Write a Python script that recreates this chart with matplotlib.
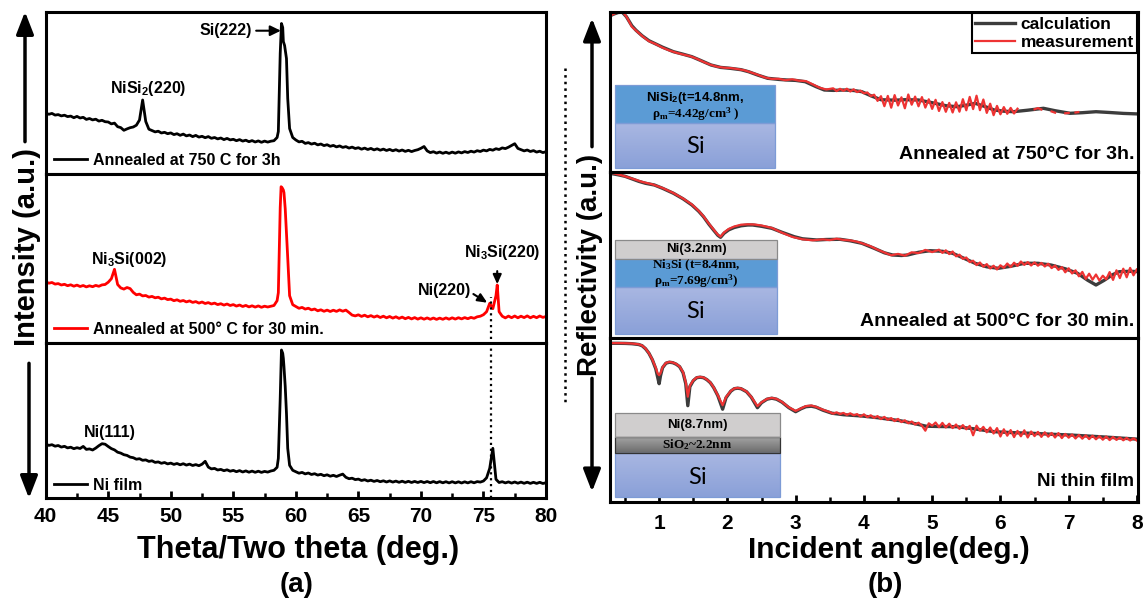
import numpy as np
import matplotlib
matplotlib.use("Agg")
import matplotlib.pyplot as plt
from matplotlib.patches import Rectangle, FancyArrowPatch
from matplotlib.lines import Line2D
from matplotlib.colors import LinearSegmentedColormap
from matplotlib.ticker import MultipleLocator

plt.rcParams["font.family"] = ["Liberation Sans", "DejaVu Sans"]
plt.rcParams["font.weight"] = "bold"
plt.rcParams["mathtext.fontset"] = "custom"
plt.rcParams["mathtext.rm"] = "Liberation Serif:bold"
plt.rcParams["mathtext.it"] = "Liberation Serif:italic:bold"
plt.rcParams["mathtext.bf"] = "Liberation Serif:bold"
plt.rcParams["mathtext.sf"] = "Liberation Sans:bold"

# ---------------- XRD scans, 2theta step 0.25 deg (a.u.) ----------------
two_theta = np.linspace(40, 80, 161)

xrd_750 = [
    60.5, 59.2, 60.1, 58.4, 58.9, 57.6, 58.3, 56.9, 57.4, 55.8, 57.1, 55.5, 56.2, 54.1, 55.0, 53.6, 54.3, 52.4, 53.2, 51.8,
    51.5, 49.6, 50.4, 46.8, 45.9, 43.2, 44.6, 45.8, 46.5, 48.3, 53.5, 73.5, 52.0, 44.3, 42.9, 41.6, 42.3, 40.5, 41.2, 39.8,
    40.6, 38.9, 39.8, 38.2, 39.4, 37.6, 38.5, 36.9, 38.1, 36.4, 37.2, 35.8, 36.9, 35.2, 36.0, 34.6, 35.5, 33.9, 35.1, 33.6,
    34.2, 32.8, 33.9, 32.4, 33.3, 31.8, 32.9, 31.5, 32.6, 31.2, 32.4, 31.4, 32.3, 32.8, 36.0, 120.0, 132.0, 115.0, 45.0, 36.0,
    33.5, 31.6, 32.2, 30.1, 30.9, 29.4, 30.3, 28.6, 29.5, 27.9, 28.8, 27.2, 28.1, 26.6, 27.6, 26.1, 26.9, 25.4, 26.4, 25.0,
    25.8, 24.3, 25.4, 24.0, 25.1, 23.6, 24.7, 23.3, 24.4, 23.0, 24.1, 22.7, 23.8, 22.4, 23.5, 22.1, 23.2, 21.9, 23.0, 23.8,
    25.2, 27.0, 22.6, 20.9, 21.8, 20.4, 21.5, 20.2, 21.3, 20.1, 21.4, 20.3, 21.6, 20.6, 21.9, 21.0, 22.3, 21.4, 22.8, 22.0,
    23.4, 22.6, 24.1, 23.3, 24.8, 24.0, 25.6, 24.9, 26.3, 28.0, 29.8, 25.1, 23.9, 22.6, 23.5, 22.0, 22.9, 21.4, 22.3, 20.9,
    21.8,
]
peak_theta_750 = [58.6, 58.85, 58.95, 59.1, 59.35]
peak_750 = [42.0, 150.0, 146.0, 128.0, 75.0]

xrd_500 = [
    61.0, 59.5, 60.2, 58.6, 59.1, 57.7, 58.4, 57.0, 57.9, 56.5, 57.6, 56.2, 57.2, 55.8, 56.9, 56.0, 57.3, 56.4, 57.8, 58.2,
    60.5, 64.0, 73.4, 58.2, 54.8, 53.6, 55.2, 54.1, 50.3, 47.9, 48.6, 46.8, 47.2, 45.6, 46.3, 44.9, 45.5, 43.8, 44.6, 43.1,
    43.6, 42.0, 42.9, 41.4, 42.2, 40.8, 41.8, 40.3, 41.1, 39.6, 40.7, 39.2, 40.1, 38.7, 39.6, 38.1, 39.0, 37.6, 38.7, 37.2,
    38.1, 36.6, 37.7, 36.2, 37.3, 35.8, 36.9, 35.6, 36.8, 35.4, 36.5, 35.7, 36.4, 37.2, 42.0, 135.0, 152.7, 110.0, 47.0, 38.0,
    36.2, 34.4, 35.3, 33.6, 34.5, 32.8, 33.7, 31.9, 32.9, 31.4, 32.6, 31.2, 32.5, 31.3, 32.8, 31.5, 32.6, 30.2, 27.6, 26.8,
    27.9, 26.3, 27.5, 25.9, 27.1, 25.6, 26.8, 25.2, 26.5, 24.9, 26.2, 24.6, 25.9, 24.3, 25.6, 24.0, 25.3, 23.8, 25.1, 23.6,
    24.9, 23.5, 24.8, 23.4, 24.7, 23.3, 24.6, 23.4, 24.8, 23.5, 24.9, 23.6, 25.0, 23.8, 25.1, 24.0, 25.3, 24.4, 25.9, 26.5,
    28.0, 31.0, 39.4, 34.0, 47.0, 31.0, 26.5, 24.8, 26.6, 25.0, 26.7, 24.9, 26.5, 25.1, 26.8, 24.9, 26.4, 25.0, 26.7, 25.3,
    26.2,
]
peak_theta_500 = [58.6, 58.82, 58.9, 59.05, 59.15, 59.35, 76.1]
peak_500 = [50.0, 156.0, 155.0, 150.0, 134.0, 85.0, 57.7]

xrd_ni = [
    54.3, 52.9, 53.6, 52.1, 52.8, 51.2, 52.0, 50.4, 51.1, 49.6, 50.6, 49.8, 51.9, 48.9, 49.4, 48.3, 50.2, 52.6, 54.6, 54.1,
    51.8, 49.7, 48.4, 46.1, 45.2, 43.6, 42.9, 41.2, 40.6, 39.1, 39.6, 38.0, 38.4, 36.9, 37.5, 35.9, 36.4, 35.0, 35.8, 34.4,
    35.2, 33.9, 34.8, 33.5, 34.6, 33.2, 34.2, 32.8, 33.7, 32.6, 34.1, 37.0, 31.2, 29.4, 29.9, 28.3, 28.9, 27.6, 28.5, 27.1,
    27.9, 26.6, 27.7, 26.3, 27.4, 26.1, 27.2, 26.0, 27.1, 25.9, 26.9, 26.2, 27.3, 28.0, 31.0, 100.0, 140.0, 85.0, 33.0, 28.0,
    26.6, 25.1, 25.9, 24.4, 25.3, 23.8, 24.6, 23.2, 24.0, 22.6, 23.5, 22.1, 23.0, 21.8, 23.1, 24.2, 21.0, 19.6, 20.1, 18.7,
    19.2, 17.8, 18.6, 17.3, 18.1, 16.9, 17.8, 16.6, 17.5, 16.3, 17.4, 16.2, 17.2, 16.0, 17.1, 15.9, 17.0, 15.8, 16.9, 15.8,
    16.9, 15.7, 16.8, 15.6, 16.8, 15.5, 16.7, 15.5, 16.6, 15.4, 16.6, 15.4, 16.5, 15.3, 16.5, 15.4, 16.6, 15.5, 16.7, 16.2,
    17.3, 20.5, 30.0, 50.0, 19.0, 15.8, 16.6, 15.4, 16.4, 15.2, 16.3, 15.1, 16.2, 15.0, 16.1, 14.9, 16.0, 14.9, 16.0, 14.8,
    15.6,
]
peak_theta_ni = [58.6, 58.85, 58.95, 59.05, 59.15, 59.35]
peak_ni = [40.0, 148.3, 145.0, 131.6, 112.0, 50.0]

xrd_labels = ["Annealed at 750 C for 3h", "Annealed at 500\u00b0 C for 30 min.", "Ni film"]

# ---------------- X-ray reflectivity, (angle deg, a.u.) ----------------
calc_750 = [
    (0.28, 156.0), (0.35, 158.0), (0.40, 159.2), (0.46, 159.5), (0.52, 155.0), (0.60, 146.0), (0.66, 141.5),
    (0.75, 136.0), (0.85, 131.0), (0.93, 128.4), (1.05, 124.5), (1.21, 120.0), (1.35, 117.5), (1.48, 115.0),
    (1.60, 111.5), (1.76, 106.7), (1.90, 104.3), (2.04, 103.4), (2.20, 102.0), (2.31, 100.0), (2.45, 96.5),
    (2.59, 93.4), (2.75, 92.3), (2.87, 91.7), (3.00, 91.3), (3.14, 90.0), (3.30, 85.0), (3.42, 81.7),
    (3.55, 81.3), (3.70, 81.7), (3.85, 81.2), (3.97, 80.0), (4.10, 76.0), (4.25, 72.0), (4.45, 71.5),
    (4.60, 72.0), (4.80, 71.7), (5.00, 69.0), (5.20, 66.0), (5.36, 65.0), (5.50, 66.5), (5.63, 68.4),
    (5.78, 65.0), (5.91, 61.7), (6.05, 60.5), (6.19, 60.0), (6.40, 61.5), (6.63, 63.4), (6.80, 61.0),
    (7.02, 58.4), (7.20, 59.0), (7.40, 60.0), (7.60, 59.2), (7.80, 58.3), (8.04, 57.7),
]
meas_750 = [
    (0.30, 156.5), (0.36, 158.5), (0.42, 159.8), (0.47, 159.6), (0.53, 154.0), (0.60, 145.0), (0.68, 140.0),
    (0.76, 135.2), (0.85, 130.5), (0.95, 127.6), (1.05, 124.0), (1.15, 121.2), (1.25, 119.0), (1.35, 117.2),
    (1.45, 115.6), (1.55, 113.0), (1.65, 109.8), (1.75, 107.0), (1.85, 105.0), (1.95, 104.0), (2.05, 103.6),
    (2.15, 102.6), (2.25, 101.4), (2.35, 99.2), (2.45, 96.8), (2.55, 94.2), (2.65, 92.8), (2.75, 92.9),
    (2.85, 91.5), (2.95, 92.4), (3.05, 91.0), (3.15, 90.6), (3.25, 87.4), (3.35, 84.0), (3.45, 82.2),
    (3.55, 83.4), (3.60, 80.6), (3.65, 82.9), (3.70, 80.9), (3.75, 83.0), (3.80, 80.2), (3.85, 82.4),
    (3.90, 79.6), (3.95, 81.0), (4.00, 78.4), (4.05, 79.2), (4.10, 75.6), (4.15, 77.0), (4.20, 70.8),
    (4.25, 75.5), (4.30, 65.5), (4.35, 75.8), (4.40, 64.0), (4.45, 76.6), (4.50, 66.2), (4.55, 74.4),
    (4.60, 63.4), (4.65, 77.2), (4.70, 67.0), (4.75, 75.1), (4.80, 65.4), (4.85, 74.6), (4.90, 64.1),
    (4.95, 72.4), (5.00, 62.8), (5.05, 71.9), (5.10, 60.7), (5.15, 69.6), (5.20, 59.9), (5.25, 68.8),
    (5.30, 59.2), (5.35, 69.4), (5.40, 60.0), (5.45, 72.5), (5.50, 61.4), (5.55, 74.8), (5.60, 62.6),
    (5.65, 76.0), (5.70, 61.5), (5.75, 72.2), (5.80, 58.8), (5.85, 68.0), (5.90, 56.5), (5.95, 65.8),
    (6.00, 57.4), (6.05, 64.6), (6.10, 57.9), (6.15, 63.8), (6.20, 58.2), (6.25, 63.0),
    (6.30, np.nan), (6.50, 62.4), (6.55, 63.6), (6.60, 62.2), (6.65, np.nan), (6.75, 60.2), (6.80, 59.0),
    (6.85, np.nan), (6.95, 58.4), (7.00, 58.8), (7.05, np.nan), (7.10, 59.2), (7.14, 59.6),
]

calc_500 = [
    (0.28, 165.0), (0.40, 163.5), (0.50, 162.0), (0.60, 159.5), (0.70, 157.0), (0.80, 155.0), (0.93, 153.3),
    (1.05, 150.0), (1.21, 145.0), (1.35, 139.5), (1.48, 133.3), (1.58, 127.0), (1.65, 121.6), (1.73, 114.0),
    (1.80, 108.0), (1.86, 103.0), (1.90, 101.0), (1.95, 105.0), (2.02, 108.5), (2.10, 110.8), (2.20, 112.5),
    (2.30, 113.3), (2.37, 113.3), (2.50, 112.0), (2.65, 110.0), (2.80, 106.0), (2.98, 101.6), (3.10, 99.5),
    (3.31, 98.3), (3.45, 98.8), (3.65, 99.0), (3.80, 97.5), (3.97, 95.0), (4.15, 90.0), (4.30, 85.5),
    (4.42, 83.3), (4.55, 82.8), (4.64, 83.3), (4.80, 86.0), (4.97, 87.6), (5.15, 87.0), (5.30, 85.0),
    (5.45, 80.5), (5.63, 75.0), (5.80, 71.5), (5.97, 70.0), (6.15, 72.0), (6.35, 75.0), (6.55, 75.0),
    (6.74, 73.3), (6.95, 69.5), (7.13, 65.0), (7.28, 58.0), (7.40, 53.3), (7.52, 58.0), (7.64, 63.5),
    (7.74, 66.6), (7.90, 67.0), (8.04, 66.6),
]
meas_500 = [
    (0.30, 165.5), (0.45, 163.0), (0.60, 159.8), (0.75, 156.4), (0.90, 154.0), (1.05, 150.3), (1.20, 145.6),
    (1.35, 139.8), (1.48, 133.8), (1.58, 127.4), (1.65, 122.0), (1.73, 114.6), (1.80, 108.6), (1.86, 103.6),
    (1.90, 101.6), (1.95, 105.8), (2.02, 109.4), (2.10, 111.8), (2.20, 113.6), (2.30, 114.0), (2.40, 113.8),
    (2.50, 112.8), (2.65, 110.4), (2.80, 105.6), (2.95, 101.4), (3.10, 99.0), (3.25, 98.0), (3.40, 98.9),
    (3.50, 98.2), (3.60, 99.6), (3.70, 98.4), (3.80, 97.9), (3.90, 96.6), (4.00, 94.4), (4.10, 92.0),
    (4.20, 88.6), (4.30, 85.8), (4.40, 83.0), (4.50, 84.4), (4.60, 82.6), (4.70, 86.0), (4.80, 85.2),
    (4.90, 88.4), (5.00, 86.2), (5.10, 88.6), (5.15, 85.4), (5.20, 88.0), (5.25, 84.2), (5.30, 86.8),
    (5.35, 82.0), (5.40, 83.6), (5.45, 79.4), (5.50, 80.8), (5.55, 76.2), (5.60, 77.6), (5.65, 73.2),
    (5.70, 75.8), (5.75, 71.6), (5.80, 74.2), (5.85, 69.8), (5.90, 72.6), (5.95, 68.8), (6.00, 73.0),
    (6.05, 70.4), (6.10, 74.8), (6.15, 71.2), (6.20, 75.6), (6.25, 72.4), (6.30, 76.8), (6.35, 73.4),
    (6.40, 76.2), (6.45, 72.8), (6.50, 75.9), (6.55, 72.6), (6.60, 75.4), (6.65, 71.8), (6.70, 74.6),
    (6.75, 70.2), (6.80, 72.8), (6.85, 68.4), (6.90, 71.2), (6.95, 66.0), (7.00, 70.0), (7.05, 64.8),
    (7.10, 68.0), (7.15, 62.0), (7.20, 66.4), (7.25, 59.4), (7.30, 64.6), (7.35, 58.6), (7.40, 63.8),
    (7.45, 57.8), (7.50, 62.6), (7.55, 59.0), (7.60, 66.2), (7.65, 58.4), (7.70, 68.0), (7.75, 60.2),
    (7.80, 69.6), (7.85, 61.0), (7.90, 70.4), (7.95, 63.0), (8.00, 69.2), (8.04, 64.0),
]

calc_ni = [
    (0.28, 158.4), (0.40, 158.4), (0.50, 158.3), (0.60, 158.0), (0.70, 157.2), (0.75, 156.0), (0.80, 153.0),
    (0.85, 148.5), (0.90, 142.0), (0.95, 133.0), (0.98, 124.0), (1.00, 118.0), (1.02, 126.0), (1.05, 134.0),
    (1.10, 138.5), (1.15, 139.5), (1.20, 139.0), (1.25, 137.5), (1.30, 135.0), (1.35, 129.0), (1.39, 118.0),
    (1.42, 96.0), (1.45, 115.0), (1.50, 121.0), (1.55, 124.0), (1.60, 124.5), (1.65, 124.0), (1.70, 122.0),
    (1.75, 119.0), (1.80, 114.0), (1.86, 106.0), (1.93, 92.5), (1.98, 104.0), (2.05, 110.5), (2.10, 113.0),
    (2.15, 113.5), (2.20, 113.0), (2.28, 110.0), (2.35, 104.5), (2.44, 94.0), (2.50, 99.0), (2.58, 102.5),
    (2.65, 103.5), (2.72, 102.5), (2.80, 99.5), (2.90, 94.0), (3.00, 90.0), (3.08, 93.0), (3.15, 95.0),
    (3.23, 95.5), (3.30, 94.5), (3.40, 91.5), (3.53, 88.5), (3.70, 87.0), (3.97, 85.7), (4.20, 84.0),
    (4.53, 81.0), (4.75, 78.0), (4.91, 75.5), (5.10, 75.2), (5.36, 75.0), (5.60, 73.0), (5.91, 70.0),
    (6.20, 69.0), (6.46, 68.4), (6.80, 67.3), (7.02, 66.7), (7.50, 64.8), (8.04, 62.4),
]
meas_ni = [
    (0.30, 158.6), (0.45, 158.6), (0.60, 158.2), (0.70, 157.4), (0.75, 156.2), (0.80, 153.2), (0.85, 148.6),
    (0.90, 142.2), (0.95, 134.0), (0.98, 128.0), (1.00, 126.5), (1.02, 128.5), (1.05, 134.5), (1.10, 138.8),
    (1.15, 139.8), (1.20, 139.2), (1.25, 137.8), (1.30, 135.2), (1.35, 129.6), (1.39, 119.5), (1.42, 105.0),
    (1.45, 116.0), (1.50, 121.4), (1.55, 124.2), (1.60, 124.8), (1.65, 124.2), (1.70, 122.2), (1.75, 119.2),
    (1.80, 114.2), (1.86, 106.4), (1.93, 96.5), (1.98, 104.6), (2.05, 110.8), (2.10, 113.2), (2.15, 113.8),
    (2.20, 113.2), (2.28, 110.2), (2.35, 104.8), (2.44, 95.6), (2.50, 99.4), (2.58, 102.8), (2.65, 103.8),
    (2.72, 102.8), (2.80, 99.8), (2.90, 94.4), (3.00, 90.8), (3.08, 93.4), (3.15, 95.6), (3.23, 96.2),
    (3.30, 94.8), (3.40, 92.0), (3.50, 89.6), (3.55, 88.0), (3.60, 89.4), (3.65, 87.6), (3.70, 88.8),
    (3.75, 86.8), (3.80, 88.4), (3.85, 86.4), (3.90, 87.6), (3.95, 85.2), (4.00, 87.4), (4.05, 84.6),
    (4.10, 86.4), (4.15, 83.8), (4.20, 85.6), (4.25, 82.6), (4.30, 84.8), (4.35, 81.8), (4.40, 83.6),
    (4.45, 80.6), (4.50, 82.8), (4.55, 79.6), (4.60, 81.4), (4.65, 78.4), (4.70, 80.2), (4.75, 77.2),
    (4.80, 79.0), (4.85, 76.0), (4.90, 71.0), (4.95, 78.4), (5.00, 76.0), (5.05, 79.2), (5.10, 74.6),
    (5.15, 78.8), (5.20, 74.2), (5.25, 78.0), (5.30, 73.6), (5.35, 77.2), (5.40, 72.8), (5.45, 76.6),
    (5.50, 72.4), (5.55, 75.8), (5.60, 66.4), (5.65, 76.0), (5.70, 71.0), (5.75, 74.8), (5.80, 69.4),
    (5.85, 74.2), (5.90, 68.2), (5.95, 73.6), (6.00, 65.2), (6.05, 72.4), (6.10, 66.0), (6.15, 71.6),
    (6.20, 64.6), (6.25, 70.8), (6.30, 65.4), (6.35, 71.4), (6.40, 64.2), (6.45, 70.2), (6.50, 65.6),
    (6.55, 69.8), (6.60, 64.8), (6.65, 69.4), (6.70, 65.0), (6.75, 68.8), (6.80, 64.2), (6.85, 68.6),
    (6.90, 63.6), (6.95, 67.8), (7.00, 64.0), (7.05, 67.2), (7.10, 63.2), (7.15, 66.8), (7.20, 63.0),
    (7.25, 66.4), (7.30, 62.6), (7.35, 66.0), (7.40, 62.4), (7.45, 65.6), (7.50, 62.0), (7.55, 65.2),
    (7.60, 61.6), (7.65, 64.8), (7.70, 61.8), (7.75, 64.2), (7.80, 61.4), (7.85, 63.8), (7.90, 61.2),
    (7.95, 63.4), (8.00, 61.0), (8.04, 62.6),
]

xrr_labels = ["Annealed at 750\u00b0C for 3h.", "Annealed at 500\u00b0C for 30 min.", "Ni thin film"]


def merge_scan(y, extra_x, extra_y):
    x = np.concatenate([two_theta, extra_x])
    yy = np.concatenate([np.asarray(y, float), extra_y])
    order = np.argsort(x, kind="stable")
    return x[order], yy[order]


W, H = 1148, 608
fig = plt.figure(figsize=(W / 100, H / 100), dpi=100)


def frame(x0, x1, y0, y1):
    return [x0 / W, 1 - y1 / H, (x1 - x0) / W, (y1 - y0) / H]


def style(ax):
    for s in ax.spines.values():
        s.set_linewidth(2.2)
    ax.set_yticks([])


# ---------------- (a) XRD ----------------
xrd_rows = [(11.7, 173.5), (173.5, 342.7), (342.7, 498.3)]
ax_a = [fig.add_axes(frame(45.7, 546, y0, y1)) for y0, y1 in xrd_rows]
scans = [merge_scan(xrd_750, peak_theta_750, peak_750),
         merge_scan(xrd_500, peak_theta_500, peak_500),
         merge_scan(xrd_ni, peak_theta_ni, peak_ni)]
colors = ["black", "#ff0000", "black"]
for ax, (x, y), c, lab, (y0, y1) in zip(ax_a, scans, colors, xrd_labels, xrd_rows):
    line, = ax.plot(x, y, color=c, lw=2.0)
    ax.set_xlim(40, 80)
    ax.set_ylim(0, y1 - y0)
    style(ax)
    ax.legend([line], [lab], loc="lower left", bbox_to_anchor=(0.016, 0.035),
              frameon=False, borderpad=0, borderaxespad=0, handlelength=2.1,
              handletextpad=0.35, prop={"size": 11.5, "weight": "bold"})
for ax in ax_a[:2]:
    ax.set_xticks([])
ax = ax_a[2]
ax.xaxis.set_major_locator(MultipleLocator(5))
ax.xaxis.set_minor_locator(MultipleLocator(2.5))
ax.tick_params(axis="x", which="major", direction="in", length=5, width=2, labelsize=15, pad=6)
ax.tick_params(axis="x", which="minor", direction="in", length=3.5, width=1.8)
for t in ax.get_xticklabels():
    t.set_fontweight("bold")

arrow_kw = dict(arrowstyle="-|>,head_length=0.45,head_width=0.22", color="k", lw=1.5,
                mutation_scale=14, shrinkA=1, shrinkB=0)
thin_head = dict(arrow_kw, arrowstyle="-|>,head_length=0.4,head_width=0.18")
ax_a[0].annotate("Si(222)", xy=(58.8, 142.8), xytext=(54.4, 142.8), ha="center", va="center",
                 fontsize=11.5, arrowprops=arrow_kw)
ax_a[0].text(48.2, 85.2, r"NiSi$_\mathsf{2}$(220)", ha="center", va="center", fontsize=11.5)
ax_a[1].text(46.7, 83.4, r"Ni$_\mathsf{3}$Si(002)", ha="center", va="center", fontsize=11.5)
ax_a[1].text(76.5, 90.0, r"Ni$_\mathsf{3}$Si(220)", ha="center", va="center", fontsize=11.5)
ax_a[1].annotate("", xy=(76.1, 58.5), xytext=(76.1, 73.0), arrowprops=thin_head)
ax_a[1].text(71.9, 52.0, "Ni(220)", ha="center", va="center", fontsize=11.5)
ax_a[1].annotate("", xy=(75.3, 40.0), xytext=(74.1, 49.4), arrowprops=thin_head)
ax_a[2].text(45.1, 65.6, "Ni(111)", ha="center", va="center", fontsize=11.5)
# Ni(220) position carried up from the Ni film scan
ax_a[2].plot([75.6, 75.6], [0, 201.6], ls=":", color="k", lw=1.6, clip_on=False, zorder=6)

fig.text(298 / W, 1 - 550 / H, "Theta/Two theta (deg.)", ha="center", va="center", fontsize=22)
fig.text(297 / W, 1 - 585 / H, "(a)", ha="center", va="center", fontsize=20)
fig.text(27 / W, 1 - 247.5 / H, "Intensity (a.u.)", rotation=90, ha="center", va="center", fontsize=21)

# ---------------- (b) XRR ----------------
xrr_rows = [(11.7, 171.7), (171.7, 338.3), (338.3, 501.7)]
ax_b = [fig.add_axes(frame(610, 1138.3, y0, y1)) for y0, y1 in xrr_rows]
pairs = [(calc_750, meas_750), (calc_500, meas_500), (calc_ni, meas_ni)]
for ax, (calc, meas), lab, (y0, y1) in zip(ax_b, pairs, xrr_labels, xrr_rows):
    cx, cy = np.array(calc).T
    mx, my = np.array(meas).T
    ax.plot(cx, cy, color="#3c3c3c", lw=2.4, label="calculation")
    ax.plot(mx, my, color="#ee3333", lw=1.6, label="measurement")
    style(ax)
    small = lab == "Ni thin film"
    ax.text(0.992, 20.0 if small else 17.0, lab, transform=ax.get_yaxis_transform(),
            ha="right", va="center", fontsize=13.5 if small else 14)
    if ax is ax_b[0]:
        leg = ax.legend(loc="upper right", bbox_to_anchor=(0.998, 0.99), fancybox=False,
                        framealpha=1, edgecolor="black", borderpad=0.2, borderaxespad=0,
                        handlelength=2.3, handletextpad=0.3, labelspacing=0.15,
                        prop={"size": 12.5, "weight": "bold"})
        leg.get_frame().set_linewidth(1.5)
for ax in ax_b[:2]:
    ax.set_xticks([])
ax = ax_b[2]
ax.xaxis.set_major_locator(MultipleLocator(1))
ax.xaxis.set_minor_locator(MultipleLocator(0.5))
ax.tick_params(axis="x", which="major", direction="in", length=5, width=2, labelsize=15, pad=9)
ax.tick_params(axis="x", which="minor", direction="in", length=3.5, width=1.8)
for t in ax.get_xticklabels():
    t.set_fontweight("bold")

# layer stacks
si_cmap = LinearSegmentedColormap.from_list("si", ["#a9b7e2", "#8aa0d8"])
ox_cmap = LinearSegmentedColormap.from_list("ox", ["#a3a3a3", "#6b6b6b"])
grad = np.linspace(0, 1, 64).reshape(-1, 1)


def slab(ax, x0, x1, y0, y1, fill=None, cmap=None, edge="#7d9bd6"):
    if cmap is not None:
        ax.imshow(grad, cmap=cmap, extent=(x0, x1, y0, y1), aspect="auto", zorder=4,
                  interpolation="bilinear")
    else:
        ax.add_patch(Rectangle((x0, y0), x1 - x0, y1 - y0, color=fill, zorder=4, lw=0))
    ax.add_patch(Rectangle((x0, y0), x1 - x0, y1 - y0, fill=False, ec=edge, lw=0.9, zorder=5))


serif = dict(family=["Liberation Serif", "DejaVu Serif"], fontsize=9.5, zorder=7, ha="center", va="center")
sans = dict(fontsize=9.5, zorder=7, ha="center", va="center")
si_txt = dict(family=["Lato", "DejaVu Sans"], fontweight="normal", fontsize=17, zorder=7,
              ha="center", va="center")

a = ax_b[0]
slab(a, 0.355, 2.70, 3.4, 48.4, cmap=si_cmap)
slab(a, 0.355, 2.70, 48.4, 86.7, fill="#5b9bd5")
a.text(1.53, 74.0, r"NiSi$_\mathsf{2}$(t=14.8nm,", **sans)
a.text(1.53, 57.5, "\u03c1$_\\mathrm{m}$=4.42g/cm$^\\mathrm{3}$ )", **serif)
a.text(1.53, 25.0, "Si", **si_txt)

a = ax_b[1]
slab(a, 0.355, 2.726, 4.3, 51.0, cmap=si_cmap)
slab(a, 0.355, 2.726, 51.0, 79.0, fill="#5b9bd5")
slab(a, 0.355, 2.726, 79.0, 98.3, fill="#d0cece", edge="#8a8a8a")
a.text(1.54, 89.0, "Ni(3.2nm)", **sans)
a.text(1.54, 64.5, "Ni$_\\mathrm{3}$Si (t=8.4nm,\n\u03c1$_\\mathrm{m}$=7.69g/cm$^\\mathrm{3}$)",
       linespacing=1.0, **serif)
a.text(1.54, 26.6, "Si", **si_txt)

a = ax_b[2]
slab(a, 0.355, 2.764, 4.4, 49.0, cmap=si_cmap)
slab(a, 0.355, 2.764, 49.0, 64.4, cmap=ox_cmap, edge="#333333")
slab(a, 0.355, 2.764, 64.4, 88.4, fill="#d0cece", edge="#8a8a8a")
a.text(1.56, 76.7, "Ni(8.7nm)", **sans)
a.text(1.56, 56.7, r"SiO$_\mathrm{2}$~2.2nm", **serif)
a.text(1.56, 24.4, "Si", **si_txt)

for ax, (y0, y1) in zip(ax_b, xrr_rows):
    ax.set_xlim(0.28, 8.02)
    ax.set_ylim(0, y1 - y0)

fig.text(889 / W, 1 - 550 / H, "Incident angle(deg.)", ha="center", va="center", fontsize=21.5)
fig.text(885 / W, 1 - 585 / H, "(b)", ha="center", va="center", fontsize=20)
fig.text(590 / W, 1 - 265 / H, "Reflectivity (a.u.)", rotation=90, ha="center", va="center", fontsize=20)


# axis-title arrows
def vertical_arrow(x, y_from, y_to):
    fig.add_artist(FancyArrowPatch((x / W, 1 - y_from / H), (x / W, 1 - y_to / H),
                                   transform=fig.transFigure, color="k", lw=2.5,
                                   arrowstyle="-|>,head_length=0.9,head_width=0.35",
                                   mutation_scale=15, shrinkA=0, shrinkB=0))


vertical_arrow(25, 141.7, 11.7)
vertical_arrow(29, 363.3, 498.3)
vertical_arrow(592, 146.7, 18.3)
vertical_arrow(592, 378.3, 491.7)
fig.add_artist(Line2D([564.5 / W, 564.5 / W], [1 - 68 / H, 1 - 402 / H], transform=fig.transFigure,
                      ls=":", lw=1.8, color="k"))

fig.savefig("out.png", dpi=100)
